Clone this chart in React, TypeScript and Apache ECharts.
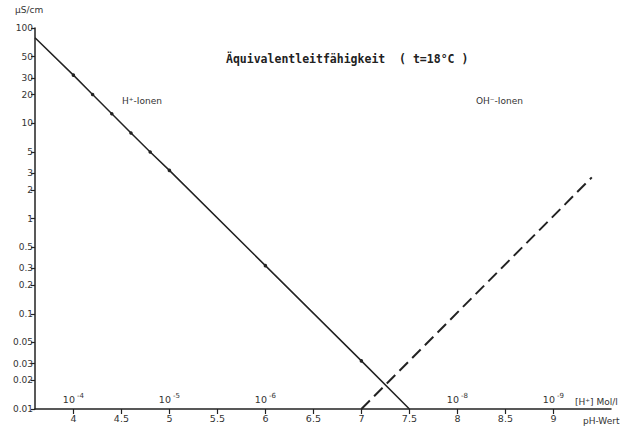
import React, { useEffect, useRef } from "react";
import * as echarts from "echarts";

// H+ ions: pH vs equivalent conductivity (µS/cm)
const hPH = [3.6, 4.0, 4.2, 4.4, 4.6, 4.8, 5.0, 6.0, 7.0, 7.5];
const hK = [79, 32, 20, 12.6, 7.9, 5.0, 3.2, 0.32, 0.032, 0.01];
const hDot = [false, true, true, true, true, true, true, true, true, false];
// OH- ions
const ohPH = [7.0, 9.4];
const ohK = [0.01, 2.7];

const yTickValues = [100, 50, 30, 20, 10, 5, 3, 2, 1, 0.5, 0.3, 0.2, 0.1, 0.05, 0.03, 0.02, 0.01];
const yTickLabels = ["100", "50", "30", "20", "10", "5", "3", "2", "1", "0.5", "0.3", "0.2", "0.1", "0.05", "0.03", "0.02", "0.01"];
const pHTicks = [4, 4.5, 5, 5.5, 6, 6.5, 7, 7.5, 8, 8.5, 9];
const pHLabels = ["4", "4.5", "5", "5.5", "6", "6.5", "7", "7.5", "8", "8.5", "9"];
const hConcTicks = [4, 5, 6, 8, 9];
const hConcExp = ["-4", "-5", "-6", "-8", "-9"];

const INK = "#222";
const TXT = "#333";
const FONT = "DejaVu Sans";

function findIdx(arr: number[], v: number) {
  let best = 0;
  let bd = Infinity;
  arr.forEach((a, i) => {
    const d = Math.abs(a - v);
    if (d < bd) {
      bd = d;
      best = i;
    }
  });
  return best;
}

export default function App() {
  const ref = useRef<HTMLDivElement>(null);
  useEffect(() => {
    if (!ref.current) return;
    const chart = echarts.init(ref.current, null, { renderer: "svg" });
    const yLog = yTickValues.map((v) => Math.log10(v));
    chart.setOption({
      animation: false,
      backgroundColor: "#fff",
      grid: { left: 35, right: 24, top: 28, bottom: 23, containLabel: false },
      xAxis: [
        {
          type: "value",
          min: 3.6,
          max: 9.6,
          position: "bottom",
          axisLine: { show: true, onZero: false, lineStyle: { color: INK, width: 1.5 } },
          axisTick: { show: true, customValues: pHTicks, length: 5, lineStyle: { color: INK, width: 1.2 } },
          axisLabel: {
            customValues: pHTicks,
            margin: 4,
            color: TXT,
            fontFamily: FONT,
            fontSize: 9.5,
            formatter: (v: number) => pHLabels[findIdx(pHTicks, v)],
          },
          splitLine: { show: false },
        },
        {
          type: "value",
          min: 3.6,
          max: 9.6,
          position: "bottom",
          axisLine: { show: false, onZero: false },
          axisTick: { show: false },
          axisLabel: {
            inside: true,
            customValues: hConcTicks,
            margin: 3,
            color: TXT,
            fontFamily: FONT,
            fontSize: 9.5,
            formatter: (v: number) => "10{s|" + hConcExp[findIdx(hConcTicks, v)] + "}",
            rich: { s: { fontSize: 7, fontFamily: FONT, color: TXT, verticalAlign: "top", padding: [0, 0, 7, 2] } },
          },
          splitLine: { show: false },
        },
      ],
      yAxis: {
        type: "value",
        min: -2,
        max: 2,
        axisLine: { show: true, onZero: false, lineStyle: { color: INK, width: 1.5 } },
        axisTick: { show: true, customValues: yLog, length: 4, lineStyle: { color: INK, width: 1.2 } },
        axisLabel: {
          customValues: yLog,
          margin: 2,
          color: TXT,
          fontFamily: FONT,
          fontSize: 9,
          formatter: (v: number) => yTickLabels[findIdx(yLog, v)],
        },
        splitLine: { show: false },
      },
      series: [
        {
          type: "line",
          name: "H+",
          data: hPH.map((x, i) => ({
            value: [x, Math.log10(hK[i])],
            symbol: hDot[i] ? "circle" : "none",
          })),
          symbolSize: 3.5,
          showSymbol: true,
          itemStyle: { color: INK },
          lineStyle: { color: INK, width: 1.5 },
        },
        {
          type: "line",
          name: "OH-",
          data: ohPH.map((x, i) => [x, Math.log10(ohK[i])]),
          symbol: "none",
          lineStyle: { color: INK, width: 2, type: [12, 6] },
        },
      ],
      graphic: [
        {
          type: "text",
          left: 15,
          top: 5,
          style: { text: "µS/cm", fontFamily: FONT, fontSize: 9, fill: TXT },
        },
        {
          type: "text",
          left: 226,
          top: 53,
          style: {
            text: "Äquivalentleitfähigkeit  ( t=18°C )",
            fontFamily: "DejaVu Sans Mono",
            fontWeight: "bold",
            fontSize: 11.5,
            fill: "#222",
          },
        },
        {
          type: "text",
          left: 122,
          top: 96,
          style: { text: "H⁺-Ionen", fontFamily: FONT, fontSize: 9, fill: TXT },
        },
        {
          type: "text",
          left: 476,
          top: 96,
          style: { text: "OH⁻-Ionen", fontFamily: FONT, fontSize: 9, fill: TXT },
        },
        {
          type: "text",
          left: 575,
          top: 397,
          style: { text: "[H⁺] Mol/l", fontFamily: FONT, fontSize: 9, fill: TXT },
        },
        {
          type: "text",
          left: 583,
          top: 416,
          style: { text: "pH-Wert", fontFamily: FONT, fontSize: 9, fill: TXT },
        },
      ],
    });
    return () => chart.dispose();
  }, []);
  return (
    <div
      ref={ref}
      style={{ position: "fixed", left: 0, top: 0, width: 635, height: 432, background: "#fff" }}
    />
  );
}
